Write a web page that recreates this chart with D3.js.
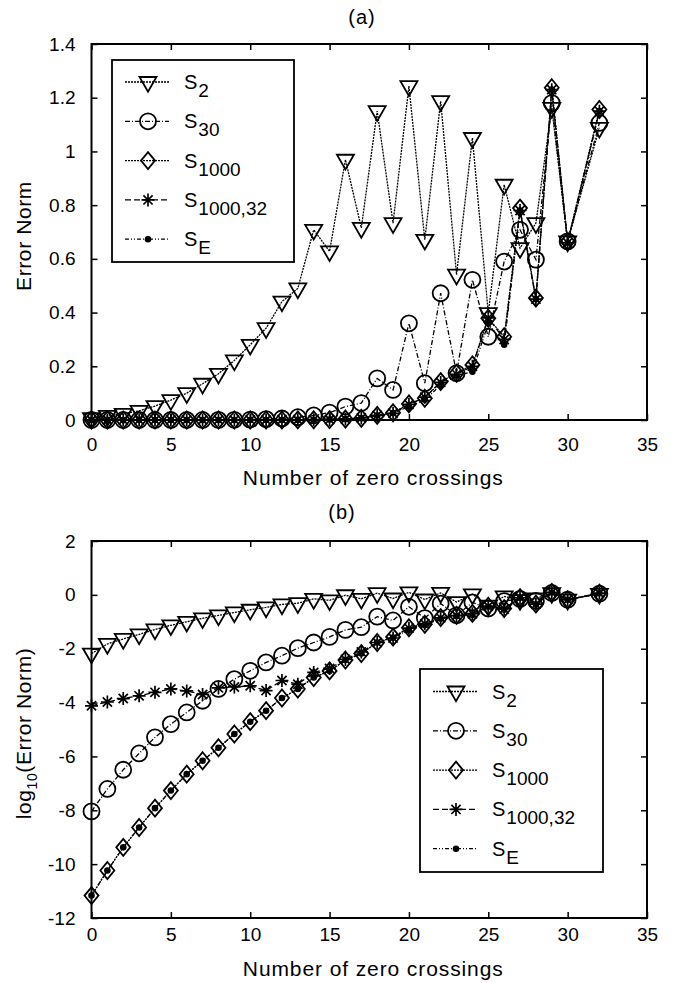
<!DOCTYPE html>
<html>
<head>
<meta charset="utf-8">
<script src="https://cdn.jsdelivr.net/npm/d3@7"></script>
<style>
  body { margin: 0; background: #fff; }
  svg { display: block; font-family: "Liberation Sans", Arial, sans-serif; }
</style>
</head>
<body>
<svg id="chart"></svg>
<script>
// number of zero crossings (31 is missing in the original)
const crossings = [0,1,2,3,4,5,6,7,8,9,10,11,12,13,14,15,16,17,18,19,20,21,22,23,24,25,26,27,28,29,30,32];

// error norms
const s2 = [0.0066,0.015,0.023,0.034,0.052,0.074,0.10,0.135,0.172,0.222,0.28,0.342,0.441,0.49,0.708,0.628,
  0.969,0.715,1.15,0.733,1.243,0.671,1.187,0.541,1.05,0.398,0.876,0.64,0.733,1.162,0.665,1.088];
const s30 = [9.1e-9,6.2e-8,3.2e-7,1.29e-6,5.1e-6,1.58e-5,4.3e-5,1.17e-4,3.2e-4,7.4e-4,1.51e-3,3.1e-3,5.5e-3,0.0105,0.017,0.0275,
  0.050,0.063,0.155,0.112,0.36,0.137,0.472,0.174,0.522,0.31,0.59,0.708,0.597,1.18,0.665,1.106];
const s1000 = [6.8e-12,5.8e-11,4.2e-10,2.3e-9,1.2e-8,5.4e-8,2.2e-7,6.9e-7,2.1e-6,6.8e-6,1.95e-5,5.0e-5,1.48e-4,3.2e-4,8.5e-4,1.5e-3,
  3.8e-3,6.6e-3,0.017,0.027,0.060,0.081,0.143,0.174,0.205,0.379,0.31,0.789,0.454,1.237,0.665,1.156];
const s1000_32 = [7.6e-5,1.05e-4,1.41e-4,1.78e-4,2.4e-4,3.2e-4,2.7e-4,2.0e-4,3.5e-4,3.8e-4,4.2e-4,2.8e-4,6.6e-4,4.8e-4,1.32e-3,1.86e-3,
  4.0e-3,7.6e-3,0.017,0.025,0.058,0.085,0.14,0.17,0.20,0.38,0.30,0.78,0.45,1.23,0.66,1.15];
const sE = [6.8e-12,5.8e-11,4.2e-10,2.3e-9,1.2e-8,5.4e-8,2.2e-7,6.9e-7,2.1e-6,6.8e-6,1.95e-5,5.0e-5,1.48e-4,3.2e-4,8.5e-4,1.5e-3,
  3.8e-3,6.6e-3,0.017,0.026,0.050,0.075,0.13,0.165,0.18,0.36,0.28,0.78,0.45,1.23,0.66,1.15];

const xTicks = [0,5,10,15,20,25,30,35];
const yTicksA = [0,0.2,0.4,0.6,0.8,1,1.2,1.4];
const yTicksB = [-12,-10,-8,-6,-4,-2,0,2];

const series = [
  { name: "S", sub: "2", values: s2, marker: "tri", dash: "2,1" },
  { name: "S", sub: "30", values: s30, marker: "circle", dash: "5,2,1,2" },
  { name: "S", sub: "1000", values: s1000, marker: "diamond", dash: "2,1" },
  { name: "S", sub: "1000,32", values: s1000_32, marker: "star", dash: "6,3" },
  { name: "S", sub: "E", values: sE, marker: "dot", dash: "4,2,1,2,1,2" }
];

const width = 676, height = 983;
const svg = d3.select("#chart").attr("width", width).attr("height", height);

function drawMarker(g, type, x, y) {
  if (type === "tri") {
    g.append("path").attr("d", `M${x-8.5},${y-5}L${x+8.5},${y-5}L${x},${y+9.7}Z`)
      .attr("fill", "none").attr("stroke", "#000").attr("stroke-width", 1.8);
  } else if (type === "circle") {
    g.append("circle").attr("cx", x).attr("cy", y).attr("r", 8)
      .attr("fill", "none").attr("stroke", "#000").attr("stroke-width", 1.8);
  } else if (type === "diamond") {
    g.append("path").attr("d", `M${x},${y-8.5}L${x+7},${y}L${x},${y+8.5}L${x-7},${y}Z`)
      .attr("fill", "none").attr("stroke", "#000").attr("stroke-width", 1.8);
  } else if (type === "star") {
    const r = 6.5, d = 4.6;
    g.append("path")
      .attr("d", `M${x},${y-r}L${x},${y+r}M${x-r},${y}L${x+r},${y}M${x-d},${y-d}L${x+d},${y+d}M${x-d},${y+d}L${x+d},${y-d}`)
      .attr("stroke", "#000").attr("stroke-width", 1.7);
  } else if (type === "dot") {
    g.append("circle").attr("cx", x).attr("cy", y).attr("r", 3.3).attr("fill", "#000");
  }
}

function drawPanel(cfg) {
  const x = d3.scaleLinear().domain([0, 35]).range([91.5, 647]);
  const y = d3.scaleLinear().domain(cfg.yDomain).range([cfg.bottom, cfg.top]);
  const g = svg.append("g");

  // inward ticks on all four sides
  const tick = 6;
  g.append("g").attr("transform", `translate(0,${cfg.bottom})`)
    .call(d3.axisBottom(x).tickValues(xTicks).tickSizeInner(-tick).tickSizeOuter(0).tickPadding(cfg.xPad).tickFormat(d3.format("d")));
  g.append("g").attr("transform", `translate(0,${cfg.top})`)
    .call(d3.axisTop(x).tickValues(xTicks).tickSizeInner(-tick).tickSizeOuter(0).tickFormat(""));
  g.append("g").attr("transform", `translate(91.5,0)`)
    .call(d3.axisLeft(y).tickValues(cfg.yTicks).tickSizeInner(-tick).tickSizeOuter(0).tickPadding(16).tickFormat(d => String(d)));
  g.append("g").attr("transform", `translate(647,0)`)
    .call(d3.axisRight(y).tickValues(cfg.yTicks).tickSizeInner(-tick).tickSizeOuter(0).tickFormat(""));
  g.selectAll(".domain").remove();
  g.selectAll(".tick line").attr("stroke", "#000").attr("stroke-width", 1.5);
  g.selectAll(".tick text").attr("font-size", 19).attr("fill", "#000").attr("font-family", "Liberation Sans, Arial, sans-serif");

  g.append("rect").attr("x", 91.5).attr("y", cfg.top).attr("width", 647 - 91.5).attr("height", cfg.bottom - cfg.top)
    .attr("fill", "none").attr("stroke", "#000").attr("stroke-width", 2);

  // series
  series.forEach(s => {
    const pts = crossings.map((c, i) => [x(c), y(cfg.val(s.values[i]))]);
    g.append("path").attr("d", d3.line()(pts))
      .attr("fill", "none").attr("stroke", "#000").attr("stroke-width", 1.3).attr("stroke-dasharray", s.dash);
    const mg = g.append("g");
    pts.forEach(p => drawMarker(mg, s.marker, p[0], p[1]));
  });

  // legend
  const L = cfg.legend;
  g.append("rect").attr("x", L.x).attr("y", L.y).attr("width", L.w).attr("height", L.h)
    .attr("fill", "#fff").attr("stroke", "#000").attr("stroke-width", 1.8);
  series.forEach((s, i) => {
    const ly = L.firstRow + i * 39.3;
    g.append("line").attr("x1", L.x + 13).attr("x2", L.x + 57).attr("y1", ly).attr("y2", ly)
      .attr("stroke", "#000").attr("stroke-width", 1.3).attr("stroke-dasharray", s.dash);
    drawMarker(g, s.marker, L.x + 36, ly);
    const t = g.append("text").attr("x", L.x + 72).attr("y", ly + 7).attr("font-size", 20);
    t.append("tspan").text(s.name);
    t.append("tspan").attr("dy", 8).attr("dx", 1).attr("font-size", 19).text(s.sub);
  });

  // titles
  g.append("text").attr("x", cfg.titleX).attr("y", cfg.titleY).attr("text-anchor", "middle")
    .attr("font-size", 20).attr("letter-spacing", 1).text(cfg.title);
  g.append("text").attr("x", (91.5 + 647) / 2 + 4).attr("y", cfg.xLabelY).attr("text-anchor", "middle")
    .attr("font-size", 21).attr("letter-spacing", 0.9).text("Number of zero crossings");
  const yl = g.append("text").attr("transform", `translate(31,${(cfg.top + cfg.bottom) / 2 + 4}) rotate(-90)`)
    .attr("text-anchor", "middle").attr("font-size", 21).attr("letter-spacing", 0.6);
  cfg.yLabel(yl);
}

drawPanel({
  top: 44, bottom: 420, yDomain: [0, 1.4], yTicks: yTicksA, xPad: 18,
  val: v => v,
  legend: { x: 112, y: 60, w: 182, h: 202, firstRow: 82 },
  title: "(a)", titleX: 362, titleY: 24, xLabelY: 485,
  yLabel: t => t.text("Error Norm")
});

drawPanel({
  top: 541, bottom: 918, yDomain: [-12, 2], yTicks: yTicksB, xPad: 10,
  val: v => Math.log10(v),
  legend: { x: 420, y: 669, w: 183, h: 203, firstRow: 691.5 },
  title: "(b)", titleX: 342, titleY: 519, xLabelY: 976,
  yLabel: t => {
    t.append("tspan").text("log");
    t.append("tspan").attr("font-size", 14).attr("dy", 6).text("10");
    t.append("tspan").attr("dy", -6).text("(Error Norm)");
  }
});
</script>
</body>
</html>
